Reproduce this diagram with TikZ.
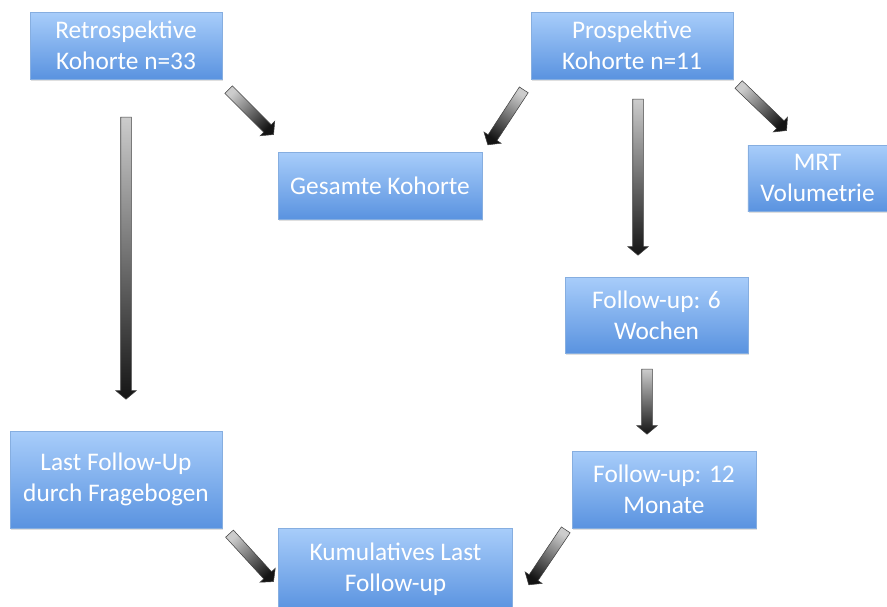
\documentclass[tikz,border=0pt]{standalone}
\usepackage{fontspec}
\setmainfont{Carlito}
\usetikzlibrary{calc}
\usetikzlibrary{shapes.arrows}
\usetikzlibrary{shadows}

\definecolor{boxtop}{HTML}{A8CDFA}
\definecolor{boxbot}{HTML}{5A93E0}
\definecolor{boxline}{HTML}{86AEE0}

\tikzset{
  kbox/.style={rectangle, draw=boxline, line width=0.4pt, top color=boxtop,
    bottom color=boxbot, text=white, align=center, inner sep=0pt,
    font=\fontsize{19}{23}\selectfont,
    drop shadow={opacity=0.25, shadow xshift=0.6pt, shadow yshift=-1.6pt}},
  barrow/.style={single arrow, draw=black!75, line width=0.4pt,
    top color=black!92, bottom color=black!20, inner xsep=0pt, inner ysep=3.75pt,
    single arrow head extend=3.75pt, single arrow tip angle=100}
}

% block arrow from tail to tip
\newcommand\blockarrow[2]{%
  \path let \p1=(#1), \p2=(#2), \n1={atan2(\y2-\y1,\x2-\x1)},
    \n2={veclen(\x2-\x1,\y2-\y1)} in
    node[barrow, shading angle=\n1-90, minimum height=\n2, rotate=\n1] at ($(#1)!0.5!(#2)$) {};}

\begin{document}
\begin{tikzpicture}[x=0.75pt,y=-0.75pt]
\useasboundingbox (0,0) rectangle (887,606);

\node[kbox, minimum width=144pt, minimum height=50pt] (retro) at (126,45.5) {Retrospektive\\Kohorte n=33};
\node[kbox, minimum width=151.5pt, minimum height=50pt] (prosp) at (632,45.5) {Prospektive\\Kohorte n=11};
\node[kbox, minimum width=153pt, minimum height=50pt] (gesamt) at (380,185.5) {Gesamte Kohorte};
\node[kbox, minimum width=104.5pt, minimum height=49.5pt] (mrt) at (817.5,178) {MRT\\Volumetrie};
\node[kbox, minimum width=137pt, minimum height=57pt] (woch) at (656.5,315) {Follow-up: 6\\Wochen};
\node[kbox, minimum width=138pt, minimum height=57.5pt] (mon) at (664,489.5) {Follow-up: 12\\Monate};
\node[kbox, minimum width=159pt, minimum height=72.5pt] (lastfu) at (116,479.5) {Last Follow-Up\\durch Fragebogen};
\node[kbox, minimum width=175.5pt, minimum height=61.5pt] (kumul) at (395.5,569) {Kumulatives Last\\Follow-up};

% arrow ends
\coordinate (a1s) at (227,88);  \coordinate (a1e) at (272,133);
\coordinate (a2s) at (126,115); \coordinate (a2e) at (126,397);
\coordinate (a3s) at (525,88);  \coordinate (a3e) at (489,143);
\coordinate (a4s) at (638,97);  \coordinate (a4e) at (638,253);
\coordinate (a5s) at (737,83);  \coordinate (a5e) at (785,129);
\coordinate (a6s) at (647,367); \coordinate (a6e) at (647,432);
\coordinate (a7s) at (228,532); \coordinate (a7e) at (272,580);
\coordinate (a8s) at (567,528); \coordinate (a8e) at (530,583);

\blockarrow{a1s}{a1e}
\blockarrow{a2s}{a2e}
\blockarrow{a3s}{a3e}
\blockarrow{a4s}{a4e}
\blockarrow{a5s}{a5e}
\blockarrow{a6s}{a6e}
\blockarrow{a7s}{a7e}
\blockarrow{a8s}{a8e}
\end{tikzpicture}
\end{document}
